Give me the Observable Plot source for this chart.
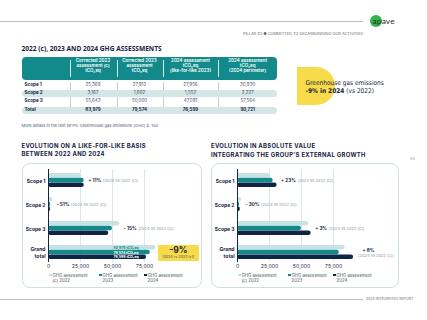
<!DOCTYPE html>
<html>
<head>
<meta charset="utf-8">
<script src="https://cdn.jsdelivr.net/npm/d3@7"></script>
<script src="https://cdn.jsdelivr.net/npm/@observablehq/plot@0.6"></script>
<style>
  html, body { margin: 0; padding: 0; background: #fff; }
  #page { position: relative; width: 427px; height: 320px; overflow: hidden; background: #fff;
          font-family: Inter, "Noto Sans", sans-serif; color: #17233f; }
  .t { position: absolute; white-space: pre; line-height: 1; }
  .box { position: absolute; box-sizing: border-box; }
  svg.chart { position: absolute; overflow: visible; }
</style>
</head>
<body>
<div id="page"></div>
<script>
// ---- Data ---------------------------------------------------------------
const tableRows = ["Scope 1", "Scope 2", "Scope 3", "Total"];
const tableHeaders = [
  "Corrected 2022\nassessment (c)\ntCO₂eq",
  "Corrected 2023\nassessment\ntCO₂eq",
  "2024 assessment\ntCO₂eq\n(like-for-like 2023)",
  "2024 assessment\ntCO₂eq\n(2024 perimeter)"
];
const corrected2022 = [25369, 3167, 55643, 83979];
const corrected2023 = [27912, 1662, 50000, 79574];
const likeForLike2024 = [27956, 1552, 47091, 76599];
const perimeter2024 = [30930, 2227, 57564, 90721];

const chartCategories = ["Scope 1", "Scope 2", "Scope 3", "Grand total"];
const seriesNames = ["GHG assessment\n(c) 2022", "GHG assessment\n2023", "GHG assessment\n2024"];
const seriesColors = ["#c7e2e3", "#128a8b", "#0e2546"];
const likeForLikeChange = ["+ 11%", "- 51%", "- 15%", "-9%"];
const absoluteChange = ["+ 23%", "- 30%", "+ 3%", "+ 8%"];
const changeNote = "(2024 vs 2022 (c))";
const xTicks = [0, 25000, 50000, 75000];
const gridTicks = [25000, 50000, 75000];

// ---- Helpers ------------------------------------------------------------
const navy = "#17233f";
const grey = "#8b96a3";
const page = d3.select("#page");
const fmt = d3.format(",");

function put(text, x, y, css = {}, anchor = "start", html = false) {
  const el = page.append("div").attr("class", "t");
  if (html) el.html(text); else el.text(text);
  const tx = anchor === "start" ? "0" : anchor === "middle" ? "-50%" : "-100%";
  el.style("left", x + "px").style("top", y + "px").style("transform", `translate(${tx},-50%)`);
  for (const [k, v] of Object.entries(css)) el.style(k, v);
  return el;
}
function box(x, y, w, h, css = {}) {
  const el = page.append("div").attr("class", "box")
    .style("left", x + "px").style("top", y + "px").style("width", w + "px").style("height", h + "px");
  for (const [k, v] of Object.entries(css)) el.style(k, v);
  return el;
}
const ctx = document.createElement("canvas").getContext("2d");
function textWidth(s, font) { ctx.font = font; return ctx.measureText(s).width; }

// ---- Page header --------------------------------------------------------
box(0, 20.7, 363, 0.7, {background: "#b7c1c5"});
box(370, 14.7, 12, 12, {background: "#38b24a", "border-radius": "50%"});
put("apave", 372.6, 20.6, {"font-size": "8.4px", "font-family": "Lato, sans-serif", color: "#2c2f33", "letter-spacing": "0.1px"});
put("PILLAR #3 ● COMMITTED TO DECARBONISING OUR ACTIVITIES", 363, 34, {"font-size": "3.9px", color: "#66717e"}, "end");

// ---- Table --------------------------------------------------------------
put("2022 (c), 2023 AND 2024 GHG ASSESSMENTS", 21.5, 48.5,
    {"font-size": "6.6px", "font-weight": "700", "font-family": "'Open Sans', sans-serif", color: navy});

const tableX = 21.5, tableW = 255.5;
const colEdges = [69.5, 116.5, 162.5, 218.3];
const colCenters = [93, 139.5, 190.5, 247.7];
const rowY = [85.4, 93.2, 101.2, 110.2];

box(tableX, 56.5, tableW, 23.5, {background: "#128a8b", "border-radius": "4px"});
colEdges.forEach(x => {
  box(x, 59.5, 0.6, 17.5, {background: "rgba(255,255,255,0.85)"});
  box(x, 82, 0.6, 32, {background: "#c5cfd4"});
});
tableHeaders.forEach((h, j) => {
  put(h, colCenters[j], 66.3, {"font-size": "4.5px", "line-height": "4.9px", "font-weight": "600",
      color: "#fff", "text-align": "center"}, "middle");
});
const tableCols = [corrected2022, corrected2023, likeForLike2024, perimeter2024];
tableRows.forEach((r, i) => {
  if (i % 2 === 1) box(tableX, rowY[i] - 3.5, tableW, 7, {background: "#d3e7e8", "border-radius": "3.5px"});
  const bold = r === "Total";
  put(r, 24.5, rowY[i], {"font-size": "4.6px", "font-weight": "700", color: navy});
  tableCols.forEach((col, j) => {
    put(fmt(col[i]), colCenters[j], rowY[i], {"font-size": "4.5px", "font-weight": bold ? "700" : "400",
        color: bold ? navy : "#3f4b5c"}, "middle");
  });
});

// Headline badge
box(297, 67.2, 38, 38, {background: "#f8db4a", "border-radius": "0 19px 19px 0"});
const narrow = "'Liberation Sans Narrow', 'DejaVu Sans Condensed', sans-serif";
put("Greenhouse gas emissions", 305.5, 83.2, {"font-size": "6.5px", "font-family": narrow, color: navy});
put("<b>-9% in 2024</b> (vs 2022)", 305.5, 90.6, {"font-size": "6.5px", "font-family": narrow, color: navy}, "start", true);

put("More details in the text NFPS: Greenhouse gas emissions (GHG) p. 100", 21.5, 126,
    {"font-size": "4.1px", color: "#4d5968"});

// ---- Section titles -----------------------------------------------------
const secCss = {"font-size": "5.9px", "font-weight": "700", color: navy, "letter-spacing": "0.3px"};
put("EVOLUTION ON A LIKE-FOR-LIKE BASIS", 21.5, 146, secCss);
put("BETWEEN 2022 AND 2024", 21.5, 154, secCss);
put("EVOLUTION IN ABSOLUTE VALUE", 211, 146, secCss);
put("INTEGRATING THE GROUP'S EXTERNAL GROWTH", 211, 154.5, secCss);
put("65", 410, 159.3, {"font-size": "4px", color: "#9aa4ad"});

// ---- Charts -------------------------------------------------------------
const offsets = [-4.7, 0, 4.7];
const boldFont = "700 4.6px Inter";

function drawChart({left, values2024, changes, insideLabels, grandBadge}) {
  box(left + 0.5, 162.5, left === 21 ? 180.5 : 188, 125.8,
      {border: "1px solid #cfe0e2", "border-radius": "8px"});

  const series = [corrected2022, corrected2023, values2024];
  const rows = series.flatMap((vals, s) =>
    vals.map((v, i) => ({category: chartCategories[i], series: s, value: v})));

  const marks = [
    Plot.ruleX(gridTicks, {stroke: "#d3dfe3", strokeWidth: 0.8}),
    ...series.map((_, s) => Plot.barX(rows.filter(d => d.series === s), {
      x: "value", y: "category", fill: seriesColors[s], dy: offsets[s],
      insetTop: 9.7, insetBottom: 9.7, rx: 2.3
    })),
    Plot.ruleX([0], {stroke: navy, strokeWidth: 1}),
    Plot.axisX(xTicks, {tickSize: 0, tickPadding: 2.2, tickFormat: fmt, fontSize: 5, color: navy, label: null}),
    Plot.text(chartCategories, {
      x: 0, y: d => d, text: d => d === "Grand total" ? "Grand\ntotal" : d,
      textAnchor: "end", dx: -3, fontWeight: 700, fontSize: 5, lineHeight: 1.25, fill: navy
    })
  ];

  // change annotations next to each scope
  const nAnn = grandBadge ? 3 : 4;
  for (let i = 0; i < nAnn; i++) {
    const cat = chartCategories[i];
    const maxV = d3.max(series, v => v[i]);
    const isGrand = cat === "Grand total";
    const dx = isGrand ? 9 : 4;
    marks.push(Plot.text([{category: cat, value: maxV}], {
      x: "value", y: "category", text: () => changes[i], dx, dy: isGrand ? -1.6 : 0,
      textAnchor: "start", fontWeight: 700, fontSize: 4.6, fill: navy
    }));
    marks.push(Plot.text([{category: cat, value: maxV}], {
      x: "value", y: "category", text: () => changeNote,
      dx: isGrand ? 4.5 : dx + textWidth(changes[i], boldFont) + 1.6, dy: isGrand ? 3.4 : 0.1,
      textAnchor: "start", fontSize: 4, fill: grey
    }));
  }

  // value labels inside the grand-total bars
  if (insideLabels) {
    series.forEach((vals, s) => {
      marks.push(Plot.text([{category: "Grand total", value: vals[3]}], {
        x: 0, y: "category", dx: 65, dy: offsets[s],
        text: d => `${fmt(d.value)} tCO₂eq`, textAnchor: "start",
        fontSize: 3.5, fontWeight: 700, fill: s === 0 ? "#1a8c8d" : "#fff"
      }));
    });
  }

  const svg = Plot.plot({
    width: 182, height: 126,
    marginTop: 6, marginBottom: 27, marginLeft: 27, marginRight: 27,
    x: {domain: [0, 100000], range: [27, 155], label: null},
    y: {type: "band", domain: chartCategories, range: [5, 101], padding: 0, axis: null},
    style: {fontFamily: "Inter, sans-serif", background: "transparent", overflow: "visible"},
    marks
  });
  svg.classList.add("chart");
  svg.style.left = left + "px";
  svg.style.top = "163px";
  page.node().appendChild(svg);

  // change badge for the grand total
  if (grandBadge) {
    box(158, 245.4, 40.5, 15.6, {background: "#f8db4a", "border-radius": "1px"});
    put(changes[3], 178.3, 250.4, {"font-size": "8.6px", "font-weight": "700", color: navy}, "middle");
    put(changeNote, 178.3, 257.9, {"font-size": "3.6px", color: "#3f4b5c"}, "middle");
  }

  // legend
  seriesNames.forEach((name, s) => {
    const lx = left + [28, 78, 123][s];
    box(lx, 273.7, 2.7, 2.7, {background: seriesColors[s]});
    put(name, lx + 3.6, 277.6, {"font-size": "4.3px", "line-height": "5px", color: "#3f4b5c"});
  });
}

drawChart({left: 21, values2024: likeForLike2024, changes: likeForLikeChange, insideLabels: true, grandBadge: true});
drawChart({left: 210, values2024: perimeter2024, changes: absoluteChange, insideLabels: false, grandBadge: false});

// ---- Page footer --------------------------------------------------------
box(0, 299.2, 362.7, 0.7, {background: "#b7c1c5"});
put("2024 INTEGRATED REPORT", 365.8, 299.5, {"font-size": "3.6px", color: "#66717e"});
</script>
</body>
</html>
